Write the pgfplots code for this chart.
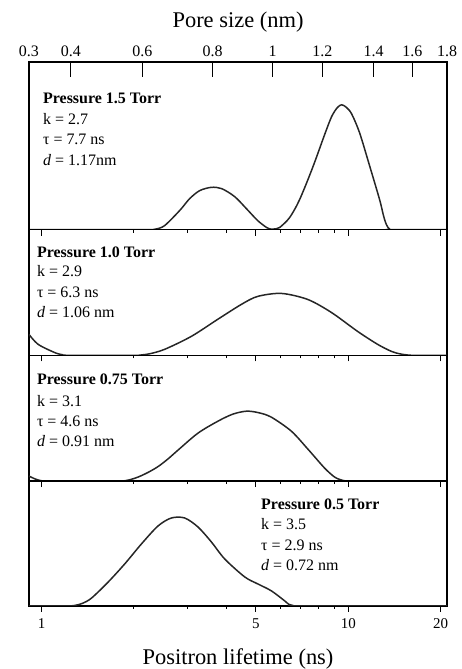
\documentclass[border=0pt]{standalone}
\usepackage{fontspec}
\setmainfont{Liberation Serif}
\usepackage{pgfplots}
\pgfplotsset{compat=1.18}

\pgfplotsset{
  every axis/.append style={
    scale only axis, width=419pt,
    anchor=north west,
    axis line style={line width=1.4pt},
    every tick/.style={black, line width=1pt},
  },
}
\tikzset{
  txt/.style={anchor=base west, inner sep=0pt, font=\fontsize{16}{16}\selectfont},
  curve/.style={black!85, line width=1.5pt, smooth, mark=none},
}

\begin{document}
\begin{tikzpicture}

% panel 1: 1.5 Torr
\begin{axis}[at={(0,0)}, height=168pt, ymin=0, ymax=168,
  xmode=log, xmin=0.91, xmax=21,
  xtick={1,5,10,20}, minor xtick={2,3,4,6,7,8,9}, xticklabels={},
  ytick=\empty, xtick pos=bottom, tick align=outside,
  major tick length=6pt, minor tick length=3pt]
\addplot[curve] coordinates {
  (0.91,0) (2.25,0) (2.339,0.3) (2.43,1.5) (2.521,4) (2.677,11.7) (2.858,21)
  (3.041,31) (3.278,39) (3.579,42.3) (3.866,41) (4.262,33) (4.653,21) (5.065,9)
  (5.419,2) (5.55,0.6) (5.668,0.4) (5.82,0.8) (5.973,2) (6.439,12) (6.940,30)
  (7.651,62) (8.371,95) (8.82,113) (9.20,122) (9.510,125) (9.85,122.5)
  (10.25,116) (10.884,97) (11.733,64) (12.65,30) (13.0,15) (13.23,7) (13.45,2.5)
  (13.63,0.5) (13.9,0) (21,0)
};
\node[txt] at (rel axis cs:0.0334,0.753) {\textbf{Pressure 1.5 Torr}};
\node[txt] at (rel axis cs:0.0334,0.628) {k = 2.7};
\node[txt] at (rel axis cs:0.0334,0.509) {τ = 7.7 ns};
\node[txt] at (rel axis cs:0.0334,0.384) {\textit{d} = 1.17nm};
\end{axis}

% pore size scale on top
\begin{axis}[at={(0,0)}, height=168pt, ymin=0, ymax=168,
  xmode=log, xmin=0.91, xmax=21,
  ytick=\empty,
  xtick pos=top, xticklabel pos=top,
  xtick={0.9101,1.246,2.133,3.61,5.67,8.23,12.09,16.19,20.99},
  xticklabels={0.3,0.4,0.6,0.8,1,1.2,1.4,1.6,1.8},
  minor xtick={1.5},
  minor tick length=0pt,
  tick align=inside, major tick length=15pt,
  xticklabel style={font=\fontsize{16}{16}\selectfont, yshift=2pt},
  xlabel={Pore size (nm)},
  xlabel style={font=\fontsize{22.5}{22.5}\selectfont, inner sep=0pt,
    at={(axis description cs:0.5,1)}, anchor=center, yshift=40pt}]
\addplot[draw=none] coordinates {(1,0) (20,0)};
\end{axis}

% panel 2: 1.0 Torr
\begin{axis}[at={(0,-168pt)}, height=126pt, ymin=0, ymax=126,
  xmode=log, xmin=0.91, xmax=21,
  xtick={1,5,10,20}, minor xtick={2,3,4,6,7,8,9}, xticklabels={},
  ytick=\empty, xtick pos=bottom, tick align=outside,
  major tick length=6pt, minor tick length=3pt]
\addplot[curve] coordinates {
  (0.91,21) (0.9748,11) (1.105,2.7) (1.17,0.6) (1.236,0) (2.0,0) (2.117,0.4)
  (2.25,1.5) (2.521,6) (3.080,19) (3.752,36) (4.482,51) (5.065,59) (6.050,62)
  (7.369,56) (8.803,43) (10.72,24) (12.46,11) (13.81,4) (14.7,1.5) (15.60,0.3)
  (16.44,0) (21,0)
};
\node[txt] at (rel axis cs:0.019,0.778) {\textbf{Pressure 1.0 Torr}};
\node[txt] at (rel axis cs:0.019,0.627) {k = 2.9};
\node[txt] at (rel axis cs:0.019,0.460) {τ = 6.3 ns};
\node[txt] at (rel axis cs:0.019,0.302) {\textit{d} = 1.06 nm};
\end{axis}

% panel 3: 0.75 Torr
\begin{axis}[at={(0,-294pt)}, height=126pt, ymin=0, ymax=126,
  xmode=log, xmin=0.91, xmax=21,
  xtick={1,5,10,20}, minor xtick={2,3,4,6,7,8,9}, xticklabels={},
  ytick=\empty, xtick pos=bottom, tick align=outside,
  major tick length=6pt, minor tick length=3pt]
\addplot[curve] coordinates {
  (0.91,5) (0.955,2) (1.0,0.3) (1.05,0) (1.80,0) (1.868,0.3) (1.95,1.5)
  (2.064,4) (2.22,8.5) (2.398,14.5) (2.58,22) (2.786,31) (3.236,48) (3.760,60)
  (4.20,67) (4.653,70) (5.10,68.5) (5.613,64) (6.522,50) (7.386,32)
  (8.371,13) (9.023,4) (9.4,1.5) (9.727,0.3) (10.1,0) (21,0)
};
\node[txt] at (rel axis cs:0.019,0.766) {\textbf{Pressure 0.75 Torr}};
\node[txt] at (rel axis cs:0.019,0.595) {k = 3.1};
\node[txt] at (rel axis cs:0.019,0.437) {τ = 4.6 ns};
\node[txt] at (rel axis cs:0.019,0.278) {\textit{d} = 0.91 nm};
\end{axis}

% panel 4: 0.5 Torr
\begin{axis}[at={(0,-420pt)}, height=125pt, ymin=0, ymax=125,
  xmode=log, xmin=0.91, xmax=21,
  xtick={1,5,10,20}, minor xtick={2,3,4,6,7,8,9},
  xticklabels={1,5,10,20},
  ytick=\empty, xtick pos=bottom, tick align=outside,
  major tick length=6pt, minor tick length=3pt,
  xticklabel style={font=\fontsize{15}{15}\selectfont, yshift=-3pt},
  xlabel={Positron lifetime (ns)},
  xlabel style={font=\fontsize{22.5}{22.5}\selectfont, inner sep=0pt,
    at={(axis description cs:0.5,0)}, anchor=center, yshift=-53pt}]
\addplot[curve] coordinates {
  (0.91,0) (1.22,0) (1.284,0.4) (1.36,2.5) (1.455,7.7) (1.648,23.7) (1.868,42)
  (2.117,62) (2.398,80) (2.651,88) (2.929,88) (3.236,79) (3.579,64) (3.954,47)
  (4.594,29) (5.065,22) (5.613,15) (6.202,5) (6.4,1.5) (6.6,0.3) (6.9,0) (21,0)
};
\node[txt] at (rel axis cs:0.555,0.772) {\textbf{Pressure 0.5 Torr}};
\node[txt] at (rel axis cs:0.555,0.608) {k = 3.5};
\node[txt] at (rel axis cs:0.555,0.444) {τ = 2.9 ns};
\node[txt] at (rel axis cs:0.555,0.280) {\textit{d} = 0.72 nm};
\end{axis}

\path (-29pt,62pt) rectangle (433pt,-607pt);
\end{tikzpicture}
\end{document}
